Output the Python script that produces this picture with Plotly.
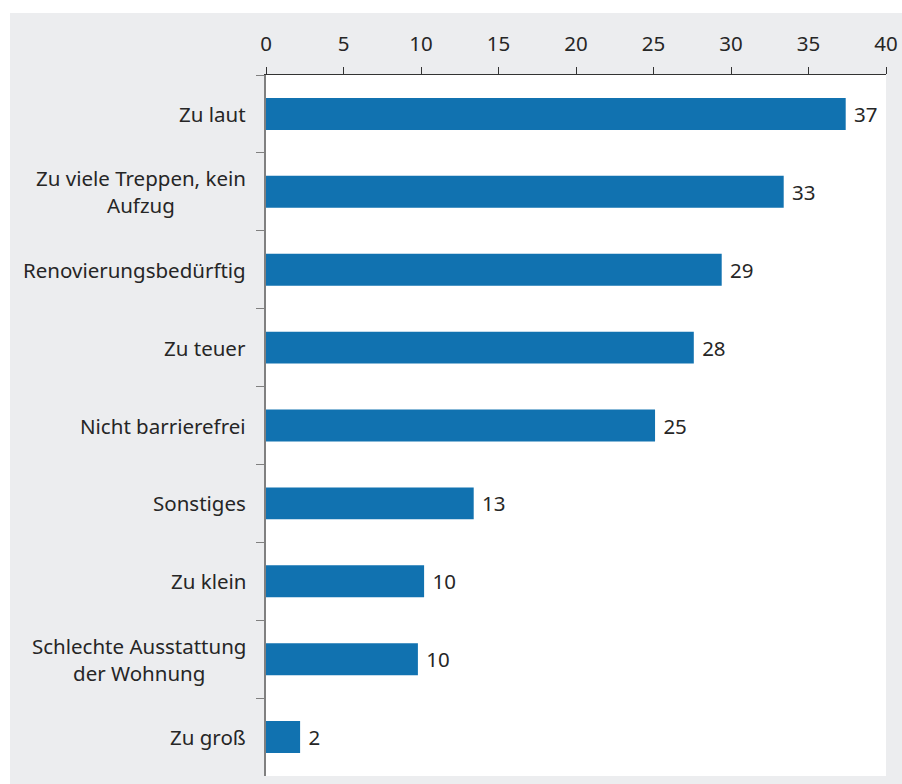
"""
Horizontal bar chart: Gründe gegen die Wohnung (Anteil in Prozent)
"""

import plotly.graph_objects as go

# Data
categories = [
    "Zu laut",
    "Zu viele Treppen, kein<br>Aufzug",
    "Renovierungsbedürftig",
    "Zu teuer",
    "Nicht barrierefrei",
    "Sonstiges",
    "Zu klein",
    "Schlechte Ausstattung<br>der Wohnung",
    "Zu groß",
]
values = [37.4, 33.4, 29.4, 27.6, 25.1, 13.4, 10.2, 9.8, 2.2]
labels = ["37", "33", "29", "28", "25", "13", "10", "10", "2"]
x_ticks = [0, 5, 10, 15, 20, 25, 30, 35, 40]

W, H = 902, 784
ML, MR, MT, MB = 266, 16, 75, 8
BAR_COLOR = "#1172b0"
GREY_BG = "#ecedef"
TEXT_COLOR = "#262626"
FONT = "Noto Sans"
FSIZE = 20.5


def px_x(p):
    # pixel -> paper x
    return (p - ML) / (W - ML - MR)


def px_y(p):
    # pixel -> paper y
    return (H - MB - p) / (H - MT - MB)


fig = go.Figure()
fig.add_trace(go.Bar(
    x=values,
    y=categories,
    orientation="h",
    marker=dict(color=BAR_COLOR, line=dict(width=0)),
    text=[" " + t for t in labels],
    textposition="outside",
    textfont=dict(size=FSIZE, color=TEXT_COLOR, family=FONT),
    cliponaxis=False,
    width=0.41,
    hoverinfo="skip",
))

# category labels as annotations so that two-line labels are centred
for cat in categories:
    fig.add_annotation(
        x=px_x(248), xref="paper", y=cat, yref="y",
        text=cat, showarrow=False,
        xanchor="right", align="center",
        font=dict(size=FSIZE, color=TEXT_COLOR, family=FONT),
    )

# white strips left and top, rest of the paper is grey
fig.add_shape(type="rect", xref="paper", yref="paper", layer="below",
              x0=px_x(-5), x1=px_x(W + 5), y0=px_y(13), y1=px_y(-5),
              fillcolor="white", line=dict(width=0))
fig.add_shape(type="rect", xref="paper", yref="paper", layer="below",
              x0=px_x(-5), x1=px_x(10), y0=px_y(H + 5), y1=px_y(-5),
              fillcolor="white", line=dict(width=0))

fig.update_layout(
    width=W,
    height=H,
    margin=dict(l=ML, r=MR, t=MT, b=MB, pad=0, autoexpand=False),
    paper_bgcolor=GREY_BG,
    plot_bgcolor="white",
    font=dict(family=FONT, size=FSIZE, color=TEXT_COLOR),
    showlegend=False,
    bargap=0.59,
)
fig.update_xaxes(
    side="top",
    range=[0, 40],
    tickvals=x_ticks,
    showgrid=False,
    zeroline=False,
    showline=True,
    linecolor="#333333",
    linewidth=1,
    ticks="outside",
    ticklen=7,
    tickcolor="#333333",
    tickfont=dict(size=FSIZE, color=TEXT_COLOR),
    ticklabelstandoff=8,
    automargin=False,
)
fig.update_yaxes(
    categoryorder="array",
    categoryarray=categories,
    autorange="reversed",
    showgrid=False,
    zeroline=False,
    showline=True,
    linecolor="#808080",
    linewidth=1.5,
    ticks="outside",
    tickson="boundaries",
    ticklen=8,
    tickcolor="#808080",
    showticklabels=False,
    automargin=False,
)

# drop the default page margin so the figure sits at the window corner
fig.write_html(
    "out.html",
    config={"displayModeBar": False},
    post_script="document.body.style.margin='0';",
)
